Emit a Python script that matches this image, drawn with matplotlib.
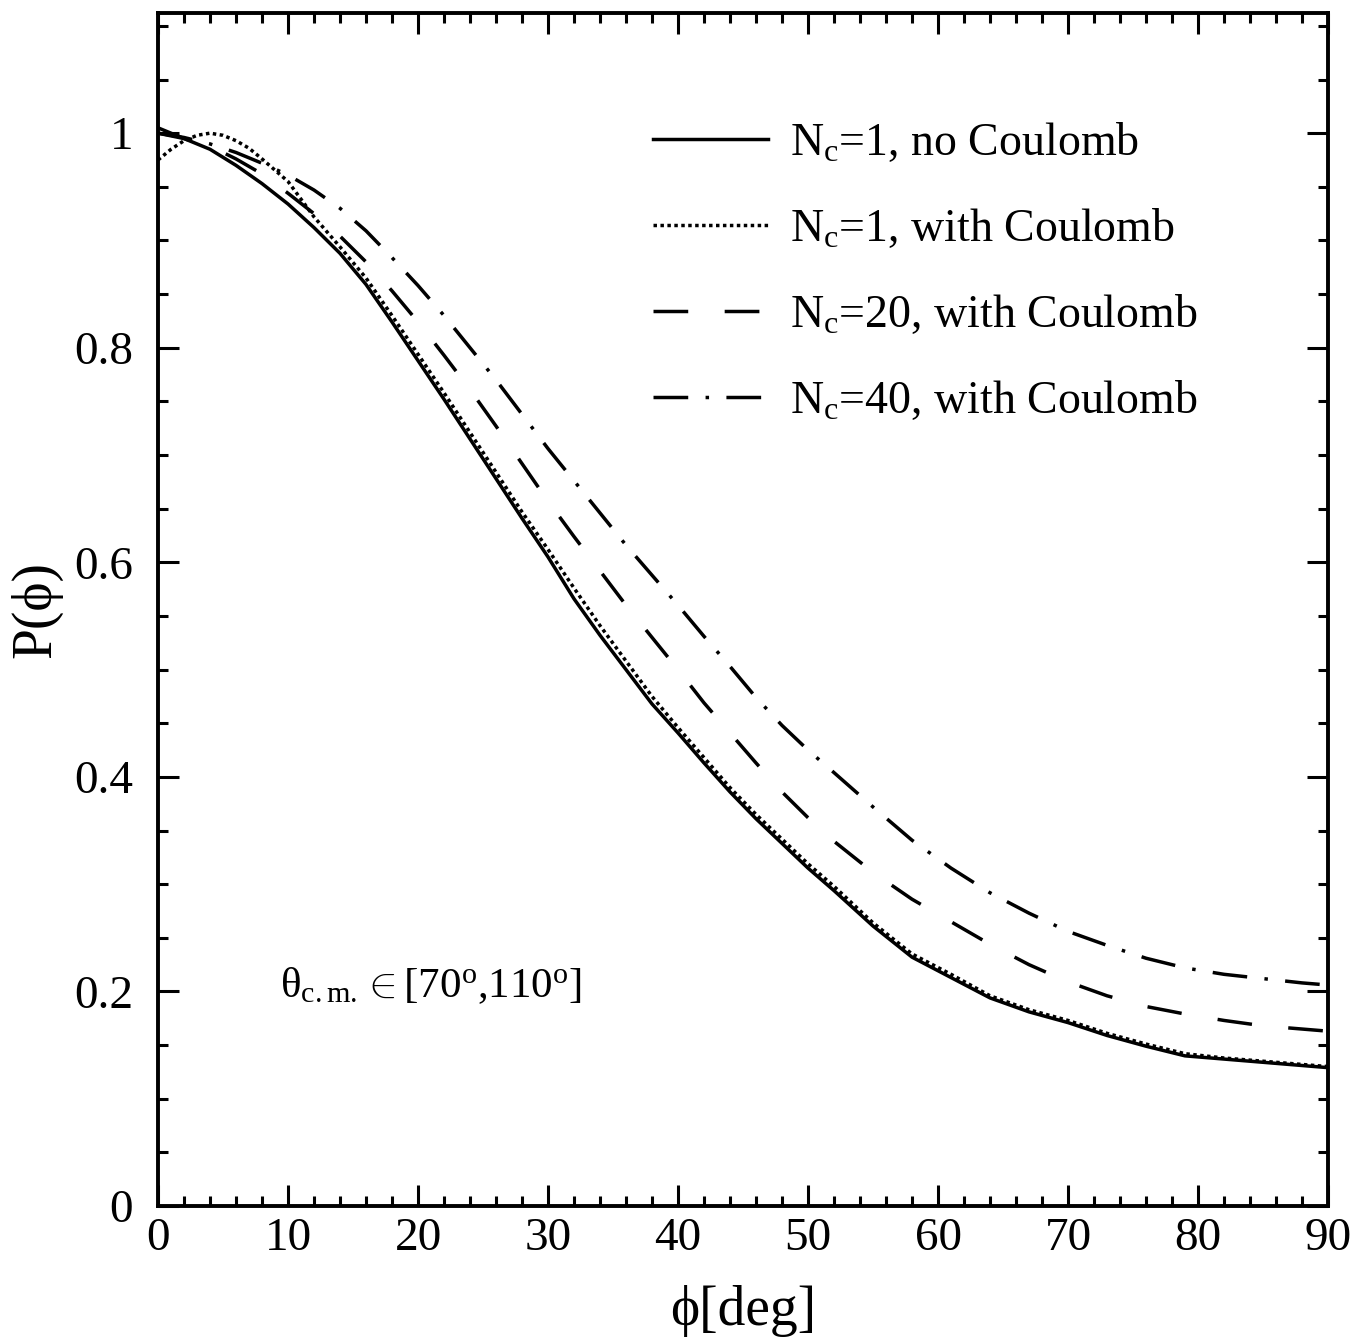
# P(phi) for theta_cm in [70,110] deg, four N_c / Coulomb cases
import numpy as np
import matplotlib
matplotlib.use("Agg")
import matplotlib.pyplot as plt
from matplotlib.ticker import MultipleLocator

plt.rcParams['font.family'] = ['Liberation Serif', 'DejaVu Serif']
plt.rcParams['mathtext.fontset'] = 'custom'
plt.rcParams['mathtext.rm'] = 'Liberation Serif'
plt.rcParams['mathtext.it'] = 'Liberation Serif:italic'

# phi grid [deg]
phi = [0, 2, 4, 6, 8, 10, 12, 14, 16, 18, 20, 22, 24, 26, 28, 30, 32, 34, 36, 38,
       40, 42, 44, 46, 48, 50, 52, 55, 58, 61, 64, 67, 70, 73, 76, 79, 82, 85, 88, 90]

# N_c=1, no Coulomb
p_nc1 = [1.005, 0.995, 0.985, 0.970, 0.953, 0.934, 0.912, 0.888, 0.859, 0.824,
         0.788, 0.752, 0.715, 0.678, 0.641, 0.605, 0.566, 0.532, 0.500, 0.468,
         0.441, 0.413, 0.386, 0.361, 0.338, 0.315, 0.294, 0.261, 0.232, 0.213,
         0.194, 0.181, 0.171, 0.159, 0.149, 0.140, 0.137, 0.134, 0.131, 0.129]

# N_c=1, with Coulomb
phi_c1 = [0, 1, 2, 3, 4, 5, 6, 7, 8, 10, 12, 14, 16, 18, 20, 22, 24, 26, 28, 30,
          32, 34, 36, 38, 40, 42, 44, 46, 48, 50, 52, 55, 58, 61, 64, 67, 70, 73,
          76, 79, 82, 85, 88, 90]
p_c1 = [0.975, 0.985, 0.993, 0.998, 1.000, 0.998, 0.993, 0.986, 0.976, 0.955,
        0.922, 0.894, 0.865, 0.830, 0.794, 0.758, 0.721, 0.684, 0.647, 0.612,
        0.576, 0.541, 0.508, 0.475, 0.446, 0.418, 0.390, 0.365, 0.342, 0.319,
        0.298, 0.264, 0.235, 0.216, 0.196, 0.183, 0.173, 0.161, 0.151, 0.142,
        0.138, 0.135, 0.132, 0.130]

# N_c=20, with Coulomb
p_nc20 = [1.000, 0.995, 0.988, 0.976, 0.962, 0.944, 0.925, 0.904, 0.880, 0.853,
          0.824, 0.793, 0.761, 0.727, 0.692, 0.657, 0.624, 0.592, 0.560, 0.530,
          0.500, 0.469, 0.441, 0.413, 0.386, 0.362, 0.340, 0.311, 0.286, 0.265,
          0.244, 0.225, 0.209, 0.196, 0.186, 0.179, 0.173, 0.168, 0.165, 0.163]

# N_c=40, with Coulomb
p_nc40 = [1.000, 0.996, 0.990, 0.982, 0.972, 0.961, 0.947, 0.930, 0.909, 0.884,
          0.858, 0.830, 0.800, 0.770, 0.738, 0.706, 0.676, 0.646, 0.616, 0.588,
          0.560, 0.531, 0.503, 0.474, 0.448, 0.425, 0.404, 0.372, 0.341, 0.315,
          0.292, 0.273, 0.256, 0.243, 0.231, 0.222, 0.216, 0.212, 0.208, 0.206]

labels = [r'N$_\mathrm{c}$=1, no Coulomb',
          r'N$_\mathrm{c}$=1, with Coulomb',
          r'N$_\mathrm{c}$=20, with Coulomb',
          r'N$_\mathrm{c}$=40, with Coulomb']

fig = plt.figure(figsize=(13.54, 13.42), dpi=100)
ax = fig.add_axes([0.1167, 0.1013, 0.8641, 0.8890])

lw = 2.5
ax.plot(phi, p_nc1, color='black', lw=lw, linestyle='-', label=labels[0])
ax.plot(phi_c1, p_c1, color='black', lw=lw, linestyle=(0, (1, 1)), label=labels[1])
ax.plot(phi, p_nc20, color='black', lw=lw, linestyle=(0, (10, 10.5)), label=labels[2])
ax.plot(phi, p_nc40, color='black', lw=lw, linestyle=(0, (10, 5, 1, 5)), label=labels[3])

ax.set_xlim(0, 90)
ax.set_ylim(0, 1.112)

ax.xaxis.set_major_locator(MultipleLocator(10))
ax.xaxis.set_minor_locator(MultipleLocator(2))
ax.yaxis.set_major_locator(MultipleLocator(0.2))
ax.yaxis.set_minor_locator(MultipleLocator(0.05))
ax.set_yticks([0, 0.2, 0.4, 0.6, 0.8, 1.0])
ax.set_yticklabels(['0', '0.2', '0.4', '0.6', '0.8', '1'])

ax.tick_params(which='both', direction='in', top=True, right=True, width=2.2)
ax.tick_params(which='major', length=15, labelsize=34)
ax.tick_params(which='minor', length=7.5)
ax.tick_params(axis='x', which='major', pad=8)
ax.tick_params(axis='y', which='major', pad=18)
for s in ax.spines.values():
    s.set_linewidth(2.8)

ax.set_xlabel('\u03d5[deg]', fontsize=40, labelpad=18)
ax.set_ylabel('P(\u03d5)', fontsize=40, labelpad=8)

ax.text(9.4, 0.205,
        '\u03b8$_{\\mathrm{c.m.}}$$\\in$[70$^{\\mathrm{o}}$,110$^{\\mathrm{o}}$]',
        fontsize=31, va='center', ha='left')

ax.legend(loc='upper left', bbox_to_anchor=(653 / 1354, 1 - 121 / 1342),
          bbox_transform=fig.transFigure, frameon=False, fontsize=33,
          handlelength=2.5, handletextpad=0.5, labelspacing=0.92, borderpad=0,
          borderaxespad=0)

fig.savefig('out.png', dpi=100)
